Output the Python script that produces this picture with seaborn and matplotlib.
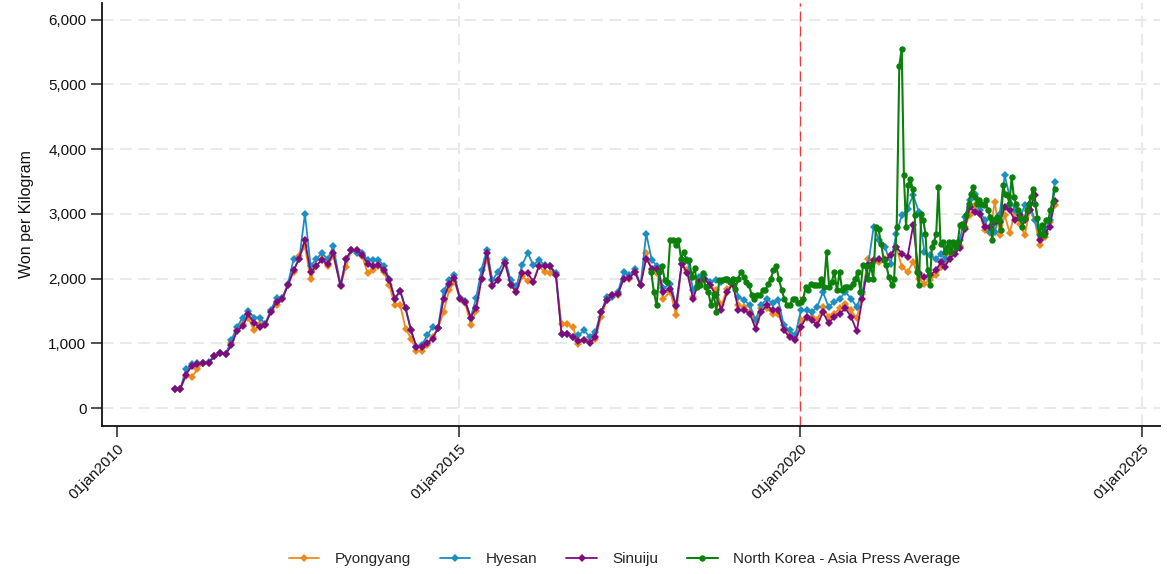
import pandas as pd
import matplotlib
matplotlib.use("Agg")
import matplotlib.pyplot as plt
from matplotlib.ticker import FuncFormatter
import seaborn as sns

# Rice market prices (won per kilogram), roughly monthly, Nov 2010 - Sep 2023.
# Each row block below is one stretch of reports (see city_periods).
pyongyang = [
    300, 300, 500, 480, 600, 700, 700, 800, 850, 830, 1000, 1200, 1300, 1400, 1200, 1300, 1300, 1500, 1600, 1700,
    1900, 2100, 2350, 2500, 2000, 2200, 2300, 2200, 2350,
    1900, 2180, 2440, 2440, 2350, 2080, 2140, 2200, 2100, 1900, 1590, 1590, 1230, 1075, 885, 885, 980, 1100, 1240, 1485,
    1820, 1950, 1700, 1620, 1290, 1500, 2000, 2300, 1900, 1975,
    2240, 1900, 1795, 2035, 1965, 1950, 2195, 2100, 2080, 2050, 1295, 1295, 1255, 990, 1050, 1040, 1075, 1410, 1665,
    1745, 1745, 2000, 2000, 2100, 1900, 2400, 2130, 2080, 1690,
    1795, 1435, 2230, 2130, 1720, 1975, 1975, 1900, 1820, 1590, 1845, 1900, 1590, 1565, 1485, 1330, 1540, 1540, 1460,
    1460, 1230, 1125, 1085, 1360, 1385,
    1410, 1360, 1565, 1410, 1460, 1540, 1615, 1510, 1385, 1770, 2310, 2260, 2260, 2310, 2360, 2490, 2180, 2105, 2260,
    2000, 1920, 1985, 2050, 2180,
    2260, 2385, 2440, 2510, 2800, 2980, 3130, 3005, 2745, 2700, 3185, 2670, 2980, 2700, 3030, 2850, 2670, 3055, 2900,
    2515, 2645, 2875, 3130,
]
hyesan = [
    300, 300, 600, 680, 700, 700, 720, 800, 850, 830, 1050, 1250, 1400, 1500, 1400, 1400, 1300, 1520, 1700, 1700,
    1920, 2300, 2300, 3000, 2200, 2300, 2400, 2300, 2500,
    1900, 2300, 2440, 2400, 2400, 2290, 2290, 2290, 2200, 1990, 1690, 1810, 1540, 1200, 945, 980, 1125, 1255, 1245, 1805,
    1975, 2060, 1700, 1660, 1400, 1700, 2140, 2450, 1975, 2100,
    2290, 1975, 1880, 2205, 2400, 2205, 2290, 2205, 2190, 2090, 1150, 1150, 1100, 1125, 1200, 1100, 1180, 1485, 1710,
    1710, 1795, 2100, 2050, 2155, 1900, 2695, 2285, 2190, 1850,
    1920, 1590, 2230, 2290, 1820, 2025, 2050, 1950, 1975, 1950, 1985, 1975, 1720, 1670, 1590, 1360, 1590, 1690, 1620,
    1670, 1280, 1200, 1125, 1510, 1510,
    1485, 1565, 1795, 1565, 1640, 1690, 1795, 1690, 1565, 1795, 2205, 2800, 2590, 2490, 2230, 2695, 2980, 3080, 3290,
    3030, 2410, 2360, 2310, 2385,
    2300, 2490, 2500, 2590, 2950, 3210, 3310, 3055, 2900, 2720, 2720, 3005, 3595, 3260, 3055, 2930, 3130, 3160, 2900,
    2670, 2720, 2900, 3490,
]
sinuiju = [
    300, 300, 520, 650, 680, 700, 700, 800, 850, 830, 970, 1190, 1265, 1450, 1310, 1255, 1290, 1490, 1640, 1680,
    1900, 2130, 2310, 2600, 2100, 2200, 2290, 2230, 2390,
    1880, 2300, 2440, 2440, 2370, 2230, 2200, 2210, 2130, 1985, 1690, 1810, 1540, 1200, 945, 945, 1010, 1075, 1245, 1680,
    1920, 2010, 1690, 1640, 1400, 1550, 2000, 2390, 1890, 1975,
    2240, 1900, 1795, 2080, 2090, 1950, 2195, 2190, 2190, 2050, 1140, 1140, 1100, 1040, 1050, 1000, 1100, 1485, 1665,
    1745, 1770, 2000, 2010, 2100, 1900, 2310, 2155, 2155, 1795,
    1845, 1575, 2230, 2080, 1690, 1950, 2000, 1900, 1745, 1520, 1795, 1920, 1510, 1510, 1460, 1230, 1485, 1590, 1510,
    1520, 1200, 1100, 1060, 1255, 1410,
    1360, 1280, 1485, 1310, 1410, 1460, 1540, 1410, 1190, 1690, 2205, 2285, 2310, 2285, 2360, 2490, 2385, 2335, 2825,
    2080, 2025, 2050, 2130, 2260,
    2180, 2310, 2385, 2480, 2770, 3105, 3030, 3005, 2800, 2800, 2875, 2875, 3105, 3055, 2900, 2980, 2900, 3055, 3290,
    2590, 2695, 2800, 3200,
]
# Report stretches for the three city series: (first report, last report, number of reports)
city_periods = [
    ("2010-11-03", "2013-02-28", 29),
    ("2013-04-08", "2015-07-28", 30),
    ("2015-09-05", "2017-12-28", 29),
    ("2018-02-05", "2020-02-03", 25),
    ("2020-03-01", "2022-01-24", 24),
    ("2022-02-11", "2023-09-22", 23),
]

# Asia Press national average, reported about twice a month
asia_press_2017_2019 = [
    2105, 1795, 1590, 2105, 2190, 1985, 1950, 2600, 2600, 2515, 2600, 2310, 2410, 2285, 2285, 2025, 2170, 1870, 1900,
    2080, 1870, 1795, 1590, 1770, 1485, 1975, 1975, 2000, 2000, 1950, 2000, 1845, 2000, 2105, 2025, 1950, 1900, 1745,
    1690, 1745, 1745, 1820, 1820, 1920, 2000, 2130, 2190, 2000, 1820, 1690, 1590, 1590, 1690, 1690, 1620,
]
asia_press_2020_2021 = [
    1640, 1690, 1870, 1820, 1920, 1900, 1900, 1900, 2000, 1870, 2410, 1870, 1950, 2105, 1820, 2105, 1820, 1870, 1870,
    1870, 1920, 2000, 2105, 1800, 2205, 2190, 2000, 2205, 2000, 2800, 2760, 2540, 2285, 2205, 2025, 1900, 2000, 2800,
    5290,
]
asia_press_2021_2023 = [
    5550, 3595, 2800, 3440, 3545, 3390, 2980, 2105, 1900, 3005, 2900, 2695, 2130, 1900, 2490, 2570, 2695, 3415,
    2540, 2560, 2410, 2490, 2560, 2410, 2560, 2490, 2560, 2825, 2840, 2800, 2980, 3160, 3310, 3415, 3265, 3160, 3210,
    3160, 3135, 3210, 3060, 2955, 2590, 2905, 2955, 2905, 2745, 3440, 3310, 3285, 3160, 3570, 3265, 3160, 3060, 2930,
    2800, 2930, 3060, 3160, 3265, 3390, 3160, 2930, 2695, 2825, 2670, 2905, 2905, 3060, 3185, 3390,
]
asia_press_periods = [
    ("2017-10-25", "2019-12-19", asia_press_2017_2019),
    ("2020-01-02", "2021-06-13", asia_press_2020_2021),
    ("2021-06-26", "2023-09-22", asia_press_2021_2023),
]

series_names = ["Pyongyang", "Hyesan", "Sinuiju", "North Korea - Asia Press Average"]
series_colors = ["#EE8A1C", "#1C8EC2", "#7E0C7E", "#0B800B"]
x_tick_years = [2010, 2015, 2020, 2025]
y_ticks = [0, 1000, 2000, 3000, 4000, 5000, 6000]


def stretch_dates(periods):
    out = []
    for start, end, n in periods:
        out.extend(pd.date_range(start, end, periods=n))
    return pd.DatetimeIndex(out)


city_dates = stretch_dates(city_periods)
ap_dates = stretch_dates([(s, e, len(v)) for s, e, v in asia_press_periods])
ap_values = [v for _, _, vals in asia_press_periods for v in vals]

cities = pd.DataFrame({
    "date": list(city_dates) * 3,
    "price": pyongyang + hyesan + sinuiju,
    "market": ["Pyongyang"] * len(pyongyang) + ["Hyesan"] * len(hyesan) + ["Sinuiju"] * len(sinuiju),
})
national = pd.DataFrame({"date": ap_dates, "price": ap_values})

sns.set_theme(style="white")
plt.rcParams["font.family"] = ["Liberation Sans", "DejaVu Sans"]

fig, ax = plt.subplots(figsize=(11.76, 5.74), dpi=100)
fig.subplots_adjust(left=0.0865, right=0.9864, bottom=0.2578, top=0.9948)

palette = dict(zip(series_names[:3], series_colors[:3]))
for name in series_names[:3]:
    sns.lineplot(
        data=cities[cities["market"] == name], x="date", y="price", ax=ax,
        color=palette[name], marker="D", markersize=3.6, markeredgewidth=0,
        linewidth=1.3, estimator=None, label=name, zorder=3,
    )
sns.lineplot(
    data=national, x="date", y="price", ax=ax, color=series_colors[3],
    marker="o", markersize=4.6, markeredgewidth=0, linewidth=1.5,
    estimator=None, label=series_names[3], zorder=4,
)

# Axes limits, ticks and grid
ax.set_xlim(pd.Timestamp("2009-10-09"), pd.Timestamp("2025-04-07"))
ax.set_ylim(-275, 6256)
ax.set_yticks(y_ticks)
ax.yaxis.set_major_formatter(FuncFormatter(lambda v, p: f"{v:,.0f}"))
xt = [pd.Timestamp(f"{y}-01-01") for y in x_tick_years]
ax.set_xticks(xt)
ax.set_xticklabels([f"01jan{y}" for y in x_tick_years], rotation=45, ha="right",
                   rotation_mode="anchor")
ax.set_axisbelow(True)
ax.grid(True, color="#E9E9E9", linewidth=1.5, linestyle=(0, (5.5, 3.2)))
ax.xaxis.get_gridlines()[0].set_visible(False)

ax.axvline(pd.Timestamp("2020-01-01"), color="#F03A3A", linewidth=0.9,
           linestyle=(0, (8, 4)), zorder=2)

ax.tick_params(axis="both", which="major", bottom=True, left=True, direction="out",
               length=8, width=1.1, color="#222222", labelsize=11, pad=3,
               labelcolor="#111111")
for side in ["top", "right"]:
    ax.spines[side].set_visible(False)
for side in ["left", "bottom"]:
    ax.spines[side].set_color("#111111")
    ax.spines[side].set_linewidth(1.3)

ax.set_xlabel("")
ax.set_ylabel("Won per Kilogram", fontsize=11.5, labelpad=10, color="#111111")

handles, labels = ax.get_legend_handles_labels()
ax.get_legend().remove()
fig.legend(handles, labels, loc="center", bbox_to_anchor=(0.531, 0.026), ncol=4,
           frameon=False, fontsize=11, handlelength=2.0, handletextpad=1.0,
           columnspacing=1.9)

fig.savefig("out.png", dpi=100)
